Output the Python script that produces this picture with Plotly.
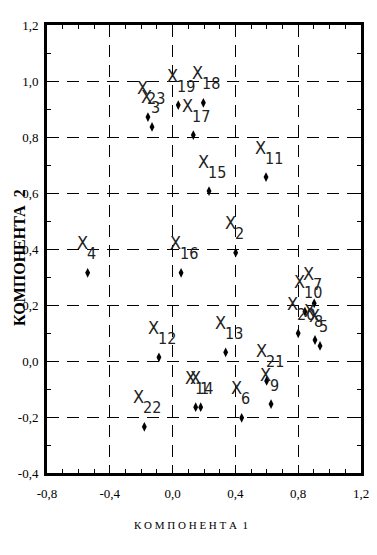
import plotly.graph_objects as go

# ---- data ----
point_ids = [1, 2, 3, 4, 5, 6, 7, 8, 9, 10, 11, 12, 13, 14, 15, 16, 17, 18, 19, 20, 21, 22, 23]
comp1 = [0.179, 0.402, -0.131, -0.541, 0.939, 0.44, 0.902, 0.907, 0.627, 0.843, 0.595, -0.087,
         0.338, 0.147, 0.232, 0.054, 0.132, 0.196, 0.036, 0.80, 0.599, -0.18, -0.157]
comp2 = [-0.165, 0.387, 0.836, 0.315, 0.054, -0.203, 0.206, 0.075, -0.154, 0.176, 0.657, 0.013,
         0.031, -0.165, 0.607, 0.315, 0.807, 0.922, 0.914, 0.099, -0.071, -0.235, 0.871]

x_tick_vals = [-0.8, -0.4, 0.0, 0.4, 0.8, 1.2]
x_tick_text = ["-0,8", "-0,4", "0,0", "0,4", "0,8", "1,2"]
y_tick_vals = [-0.4, -0.2, 0.0, 0.2, 0.4, 0.6, 0.8, 1.0, 1.2]
y_tick_text = ["-0,4", "-0,2", "0,0", "0,2", "0,4", "0,6", "0,8", "1,0", "1,2"]

x_title = "К О М П О Н Е Н Т А  1"
y_title = "КОМПОНЕНТА  2"

label_font = "Liberation Sans Narrow, DejaVu Sans Condensed, Arial Narrow, sans-serif"

# the page body has an 8px default margin; size the figure so it fills the window
OFF = 8
W, H = 377 - OFF, 555 - OFF
L, R, T, B = 47 - OFF, 16, 25 - OFF, 82
pw, ph = W - L - R, H - T - B

fig = go.Figure()
fig.add_trace(go.Scatter(
    x=comp1, y=comp2, mode="markers",
    marker=dict(symbol="diamond-tall", size=7, color="black", line=dict(width=0)),
    hoverinfo="skip", showlegend=False,
))

annotations = []
for pid, xv, yv in zip(point_ids, comp1, comp2):
    annotations.append(dict(
        x=xv, y=yv, xref="x", yref="y", text="X", showarrow=False,
        xanchor="right", yanchor="middle", xshift=2, yshift=30,
        font=dict(family=label_font, size=18, color="#222"),
    ))
    annotations.append(dict(
        x=xv, y=yv, xref="x", yref="y", text=str(pid), showarrow=False,
        xanchor="left", yanchor="middle", xshift=-3, yshift=19,
        font=dict(family=label_font, size=16, color="#222"),
    ))

# axis titles placed by target window pixel position converted to paper coordinates
def px_to_paper(px, py):
    return ((px - OFF) - L) / pw, (H - B - (py - OFF)) / ph

tx, ty = px_to_paper(191, 525)
annotations.append(dict(
    x=tx, y=ty, xref="paper", yref="paper",
    text=x_title, showarrow=False, xanchor="center", yanchor="middle",
    font=dict(family="Liberation Serif, serif", size=11, color="black"),
))
tx, ty = px_to_paper(19, 258)
annotations.append(dict(
    x=tx, y=ty, xref="paper", yref="paper",
    text="<b>" + y_title + "</b>", showarrow=False,
    textangle=-90, xanchor="center", yanchor="middle",
    font=dict(family="Liberation Serif, serif", size=16, color="black"),
))

axis_common = dict(
    automargin=False,
    showline=True, linecolor="black", linewidth=3, mirror="allticks",
    ticks="inside", ticklen=4, tickcolor="black", tickwidth=1,
    showgrid=True, gridcolor="black", gridwidth=1, griddash="12px,8px",
    zeroline=False,
    tickfont=dict(family="Liberation Serif, serif", size=13, color="black"),
)

fig.update_layout(
    width=W, height=H,
    margin=dict(l=L, r=R, t=T, b=B, autoexpand=False),
    paper_bgcolor="white", plot_bgcolor="white",
    annotations=annotations,
    xaxis=dict(range=[-0.8, 1.2], tickvals=x_tick_vals, ticktext=x_tick_text,
               minor=dict(dtick=0.1, tick0=0, ticks="inside", ticklen=4, tickcolor="black", showgrid=False),
               ticklabelstandoff=6, **axis_common),
    yaxis=dict(range=[-0.4, 1.2], tickvals=y_tick_vals, ticktext=y_tick_text,
               minor=dict(dtick=0.1, tick0=0, ticks="inside", ticklen=4, tickcolor="black", showgrid=False),
               ticklabelstandoff=3, **axis_common),
)

fig.write_html("out.html")
